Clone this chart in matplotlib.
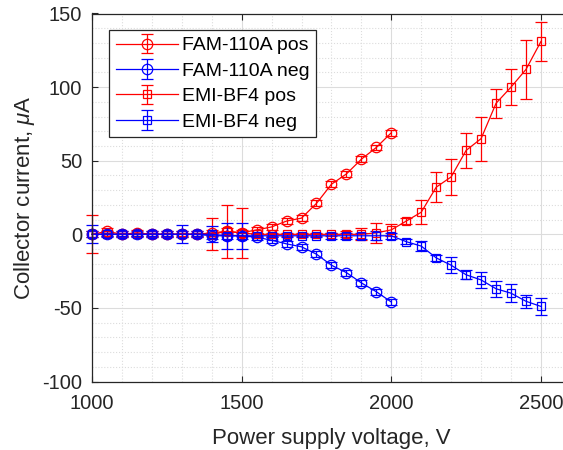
import numpy as np
import matplotlib
matplotlib.use("Agg")
import matplotlib.pyplot as plt
from matplotlib.ticker import MultipleLocator

plt.rcParams['font.family'] = ['Liberation Sans', 'DejaVu Sans']
plt.rcParams['mathtext.fontset'] = 'custom'
plt.rcParams['mathtext.it'] = 'Liberation Sans:italic'
plt.rcParams['mathtext.rm'] = 'Liberation Sans'
plt.rcParams['axes.unicode_minus'] = False

# FAM-110A, 1000..2000 V
v_fam = [1000, 1050, 1100, 1150, 1200, 1250, 1300, 1350, 1400, 1450, 1500,
         1550, 1600, 1650, 1700, 1750, 1800, 1850, 1900, 1950, 2000]
fam_pos = [0, 2, 0, 1, 0, 0, 0, 0, 1, 2, 1, 3, 5, 9, 11, 21, 34, 41, 51, 59, 69]
fam_pos_err = [2, 2, 2, 2, 2, 2, 2, 2, 2, 2, 2, 2, 2, 2, 2, 2, 2, 2, 2, 2, 2]
fam_neg = [0, 0, 0, 0, 0, 0, 0, 0, -1, -1, -1, -2, -4, -6.5, -8.5, -13.5,
           -21, -26, -33, -39, -46]
fam_neg_err = [2, 2, 2, 2, 2, 2, 2, 2, 2, 2, 2, 2, 2, 2, 2, 2, 2, 2, 2, 2, 2]

# EMI-BF4, 1000..2500 V
v_emi = [1000, 1050, 1100, 1150, 1200, 1250, 1300, 1350, 1400, 1450, 1500,
         1550, 1600, 1650, 1700, 1750, 1800, 1850, 1900, 1950, 2000,
         2050, 2100, 2150, 2200, 2250, 2300, 2350, 2400, 2450, 2500]
emi_pos = [0, 0, 0, 0, 0, 0, 0, 0, 0, 2, 1, 0, 0, 0, 0, 0, 0, 0, 0, 1, 3,
           9, 15, 32, 39, 57, 65, 89, 100, 112, 131]
emi_pos_err = [13, 1, 1, 1, 1, 1, 1, 1, 11, 18, 17, 1, 1, 1, 1, 1, 1, 2, 4, 7, 4,
               2, 8, 10, 12, 12, 15, 10, 12, 20, 13]
emi_neg = [0, 0, 0, 0, 0, 0, 0, 0, 0, -1, -1, -1, -1, -1, -1, -1, -1, -1, -1, -1, -1,
           -5, -8, -16, -21, -27.5, -31, -37, -40, -45.5, -49]
emi_neg_err = [6, 1, 1, 1, 1, 1, 6, 1, 5.5, 9, 9, 1, 1, 1, 1, 1, 2, 2, 2, 3, 2,
               1.5, 3.4, 2, 5.4, 3, 5.6, 5.5, 6.2, 4.5, 5.6]

fig = plt.figure(figsize=(5.63, 4.5), dpi=100)
ax = fig.add_axes([0.1634, 0.1522, 0.8506, 0.8178])

red = '#ff0000'
blue = '#0000ff'
kw = dict(lw=0.9, elinewidth=0.9, capsize=4.5, capthick=0.9,
          markerfacecolor='none', markeredgewidth=0.9)

series = [
    (v_fam, fam_pos, fam_pos_err, red, 'o', 7.5, 'FAM-110A pos'),
    (v_fam, fam_neg, fam_neg_err, blue, 'o', 7.5, 'FAM-110A neg'),
    (v_emi, emi_pos, emi_pos_err, red, 's', 5.5, 'EMI-BF4 pos'),
    (v_emi, emi_neg, emi_neg_err, blue, 's', 5.5, 'EMI-BF4 neg'),
]
for x, y, e, c, m, ms, lab in series:
    cont = ax.errorbar(x, y, yerr=e, color=c, marker=m, ms=ms, label=lab, **kw)
    for art in cont.get_children():
        art.set_clip_on(False)

ax.set_xlim(1000, 2600)
ax.set_ylim(-100, 150)
ax.xaxis.set_major_locator(MultipleLocator(500))
ax.xaxis.set_minor_locator(MultipleLocator(100))
ax.yaxis.set_major_locator(MultipleLocator(50))
ax.yaxis.set_minor_locator(MultipleLocator(10))
ax.grid(which='major', color='#dcdcdc', lw=0.8)
ax.grid(which='minor', color='#dcdcdc', lw=0.8, ls=':')
ax.set_axisbelow(True)
ax.tick_params(which='major', direction='in', top=True, right=True,
               length=4, labelsize=14.5, colors='#262626')
ax.tick_params(axis='x', pad=9)
ax.tick_params(axis='y', pad=7)
ax.tick_params(which='minor', length=0)
for s in ax.spines.values():
    s.set_color('#262626')
    s.set_linewidth(0.9)

ax.set_xlabel('Power supply voltage, V', fontsize=16, color='#262626', labelpad=11)
ax.set_ylabel(r'Collector current, $\mu$A', fontsize=16, color='#262626', labelpad=4)

leg = ax.legend(loc='upper left', bbox_to_anchor=(0.0355, 0.955), fontsize=14,
                fancybox=False, framealpha=1, edgecolor='#262626',
                handlelength=3.2, borderpad=0.35, labelspacing=0.4,
                borderaxespad=0, handletextpad=0.2)
leg.get_frame().set_linewidth(0.9)

fig.savefig('out.png', dpi=100)
